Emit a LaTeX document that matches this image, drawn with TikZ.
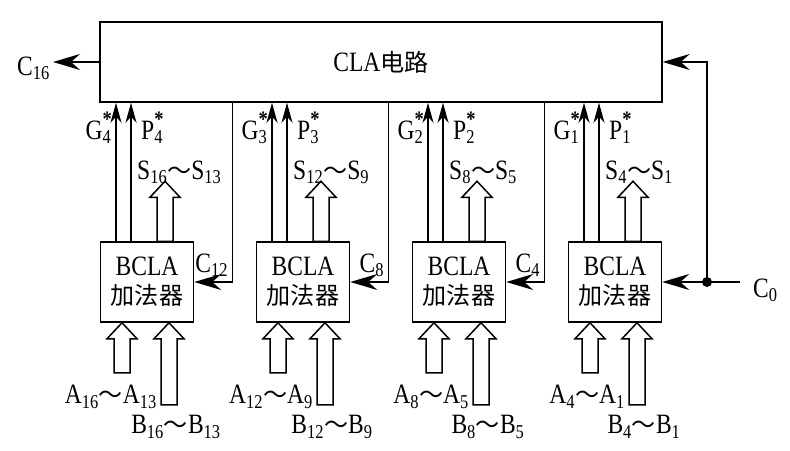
\documentclass[tikz,border=0pt]{standalone}
\usepackage{fontspec}
\setmainfont{Liberation Serif}[FakeStretch=0.84]
\newfontfamily\cjk{Noto Sans CJK SC}[Scale=0.86]
\usetikzlibrary{arrows.meta}

\newcommand{\wave}{{\cjk ～}}
\newcommand{\gpstar}[2]{#1\rlap{\textsubscript{#2}}\raisebox{13pt}{\fontsize{22}{22}\selectfont\bfseries *}}

\tikzset{
  unit/.style={draw, line width=1.5pt, inner sep=0pt, align=center},
  lab/.style={inner sep=0pt},
  sig/.style={line width=1.5pt, -{Stealth[length=20pt,width=11pt,inset=6pt]}},
  bigarr/.style={line width=1.5pt, -{Stealth[length=27pt,width=16pt,inset=9pt]}},
  pics/fatup/.style={code={
    \draw[line width=1.5pt, line join=miter] (-8,0) -- (-8,-#1+16) -- (-15,-#1+16)
      -- (0,-#1) -- (15,-#1+16) -- (8,-#1+16) -- (8,0) -- cycle;}}
}

\begin{document}
\begin{tikzpicture}[x=1pt, y=-1pt, font=\fontsize{28}{29}\selectfont]
  \useasboundingbox (0,0) rectangle (790,450);

  % carry lookahead unit
  \node[unit, minimum width=562pt, minimum height=80pt] (cla) at (381,62) {CLA{\cjk 电路}};

  % four block adders
  \foreach \i/\x in {1/147, 2/303, 3/459, 4/615}
    \node[unit, minimum width=93pt, minimum height=80pt] (bcla\i) at (\x,282) {BCLA\\{\cjk 加法器}};

  % G*, P*, sums and operands
  \foreach \i/\g/\shi/\slo in {1/4/16/13, 2/3/12/9, 3/2/8/5, 4/1/4/1} {
    \coordinate (g\i) at ([xshift=-31pt]bcla\i.north);
    \coordinate (p\i) at ([xshift=-16pt]bcla\i.north);
    \draw[sig] (g\i) -- (g\i |- cla.south);
    \draw[sig] (p\i) -- (p\i |- cla.south);
    \node[lab, anchor=base east] at ([xshift=-4pt, yshift=102pt]g\i) {\gpstar{G}{\g}};
    \node[lab, anchor=base west] at ([xshift=10pt, yshift=102pt]p\i) {\gpstar{P}{\g}};
    \pic at ([xshift=18pt]bcla\i.north) {fatup=60};
    \node[lab, anchor=base west] at ([xshift=6pt, yshift=62pt]p\i)
      {S\textsubscript{\shi}\wave S\textsubscript{\slo}};
    \pic at ([xshift=-25pt, yshift=-50pt]bcla\i.south) {fatup=50};
    \pic at ([xshift=22pt, yshift=-82pt]bcla\i.south) {fatup=82};
    \node[lab, anchor=base east] at ([xshift=10pt, yshift=-81pt]bcla\i.south)
      {A\textsubscript{\shi}\wave A\textsubscript{\slo}};
    \node[lab, anchor=base] at ([xshift=29pt, yshift=-111pt]bcla\i.south)
      {B\textsubscript{\shi}\wave B\textsubscript{\slo}};
  }

  % carries between the blocks
  \foreach \i/\c in {1/12, 2/8, 3/4} {
    \coordinate (c\i) at ([xshift=38pt]bcla\i.east);
    \draw[bigarr] (c\i |- cla.south) -- (c\i) -- (bcla\i.east);
    \node[lab, anchor=base east] at ([xshift=-4pt, yshift=10pt]c\i) {C\textsubscript{\c}};
  }

  % input carry
  \coordinate (cin) at (740,282);
  \coordinate (junc) at (707,282);
  \draw[bigarr] (cin) -- (bcla4.east);
  \draw[bigarr] (junc) |- (cla.east);
  \fill (junc) circle (5pt);
  \node[lab, anchor=base west] at ([xshift=13pt, yshift=-15pt]cin) {C\textsubscript{0}};

  % output carry
  \coordinate (cout) at (53,62);
  \draw[bigarr] (cla.west) -- (cout);
  \node[lab, anchor=base east] at ([xshift=-3pt, yshift=-13pt]cout) {C\textsubscript{16}};
\end{tikzpicture}
\end{document}
